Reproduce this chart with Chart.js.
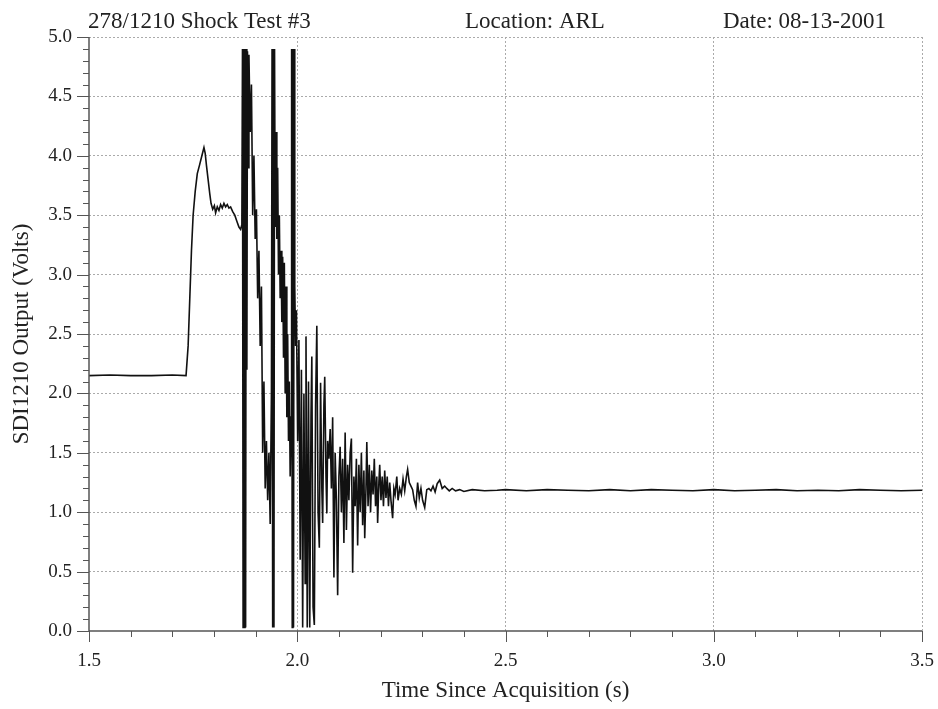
<!DOCTYPE html>
<html>
<head>
<meta charset="utf-8">
<title>278/1210 Shock Test #3</title>
<script src="https://cdn.jsdelivr.net/npm/chart.js@4.4.1/dist/chart.umd.min.js"></script>
<style>
  html, body { margin: 0; padding: 0; background: #fff; }
  canvas { display: block; }
</style>
</head>
<body>
<canvas id="shock-chart" width="938" height="709"></canvas>
<script>
// header line of the plot
const headerTitle = '278/1210 Shock Test #3';
const headerLocation = 'Location: ARL';
const headerDate = 'Date: 08-13-2001';

const xAxisTitle = 'Time Since Acquisition (s)';
const yAxisTitle = 'SDI1210 Output (Volts)';

// time of each sample (s)
const timeSec = [
  1.500, 1.550, 1.600, 1.650, 1.700, 1.733, 1.738, 1.742, 1.746, 1.750,
  1.755, 1.760, 1.766, 1.771, 1.776, 1.779, 1.782, 1.786, 1.790, 1.793,
  1.797, 1.801, 1.804, 1.808, 1.812, 1.816, 1.820, 1.824, 1.828, 1.832,
  1.836, 1.840, 1.845, 1.850, 1.855, 1.860, 1.864, 1.867, 1.8685, 1.870,
  1.8715, 1.873, 1.8745, 1.876, 1.8775, 1.879, 1.8805, 1.882, 1.884, 1.887,
  1.890, 1.893, 1.896, 1.899, 1.902, 1.905, 1.908, 1.911, 1.914, 1.917,
  1.920, 1.923, 1.926, 1.929, 1.932, 1.935, 1.938, 1.9395, 1.941, 1.9425,
  1.944, 1.9455, 1.947, 1.949, 1.951, 1.953, 1.955, 1.957, 1.959, 1.961,
  1.963, 1.965, 1.967, 1.969, 1.971, 1.973, 1.975, 1.977, 1.979, 1.981,
  1.983, 1.985, 1.9865, 1.988, 1.9895, 1.991, 1.9925, 1.994, 1.996, 1.998,
  2.001, 2.004, 2.007, 2.010, 2.013, 2.016, 2.019, 2.021, 2.024, 2.027,
  2.030, 2.033, 2.035, 2.038, 2.041, 2.044, 2.047, 2.050, 2.053, 2.056,
  2.059, 2.061, 2.064, 2.066, 2.069, 2.071, 2.073, 2.076, 2.079, 2.082,
  2.085, 2.088, 2.091, 2.094, 2.097, 2.100, 2.103, 2.106, 2.109, 2.112,
  2.115, 2.118, 2.121, 2.124, 2.127, 2.130, 2.133, 2.136, 2.139, 2.142,
  2.145, 2.148, 2.151, 2.154, 2.157, 2.160, 2.162, 2.165, 2.167, 2.170,
  2.173, 2.176, 2.179, 2.182, 2.185, 2.188, 2.191, 2.193, 2.196, 2.198,
  2.201, 2.204, 2.207, 2.210, 2.213, 2.216, 2.219, 2.222, 2.225, 2.229,
  2.232, 2.235, 2.239, 2.242, 2.246, 2.250, 2.254, 2.258, 2.262, 2.265,
  2.269, 2.273, 2.277, 2.281, 2.285, 2.289, 2.293, 2.297, 2.301, 2.306,
  2.311, 2.316, 2.321, 2.326, 2.331, 2.336, 2.342, 2.348, 2.354, 2.359,
  2.365, 2.372, 2.380, 2.390, 2.400, 2.420, 2.450, 2.480, 2.500, 2.550,
  2.600, 2.650, 2.700, 2.750, 2.800, 2.850, 2.900, 2.950, 3.000, 3.050,
  3.100, 3.150, 3.200, 3.250, 3.300, 3.350, 3.400, 3.450, 3.500
];

// SDI1210 output (V) at each of those times
const outputVolts = [
  2.15, 2.155, 2.15, 2.15, 2.155, 2.15, 2.4, 2.8, 3.2, 3.5,
  3.7, 3.85, 3.93, 4.0, 4.07, 4.02, 3.92, 3.8, 3.68, 3.6,
  3.55, 3.58, 3.52, 3.57, 3.54, 3.59, 3.56, 3.6, 3.57, 3.59,
  3.56, 3.57, 3.53, 3.5, 3.45, 3.4, 3.38, 3.42, 4.9, 0.03,
  4.9, 0.03, 4.9, 0.03, 4.9, 2.2, 4.88, 3.9, 4.85, 4.2,
  4.6, 3.5, 4.0, 3.3, 3.55, 2.8, 3.2, 2.4, 2.9, 1.5,
  2.1, 1.2, 1.6, 1.1, 1.5, 0.9, 2.0, 4.9, 0.03, 4.9,
  0.03, 4.9, 3.4, 4.2, 3.3, 3.9, 3.0, 3.5, 2.8, 3.2,
  2.6, 3.15, 2.3, 3.1, 2.0, 2.9, 1.8, 2.5, 1.6, 2.1,
  1.3, 1.8, 4.9, 0.03, 4.9, 0.03, 4.9, 2.9, 2.4, 2.7,
  1.6, 2.45, 0.6, 2.2, 0.03, 2.0, 0.4, 2.48, 0.03, 2.1,
  0.03, 1.8, 2.31, 0.2, 0.05, 1.9, 2.57, 1.0, 0.7, 2.09,
  1.2, 0.91, 1.9, 2.14, 1.3, 0.99, 1.6, 1.45, 1.7, 1.2,
  1.8, 0.45, 1.5, 1.1, 0.30, 1.3, 1.55, 1.0, 1.45, 0.74,
  1.67, 0.85, 1.4, 1.1, 1.5, 1.62, 0.49, 1.3, 1.05, 1.45,
  0.72, 1.4, 1.0, 1.5, 0.89, 1.35, 0.78, 1.2, 1.59, 1.05,
  1.4, 1.0, 1.35, 1.15, 1.45, 1.05, 1.3, 0.91, 1.25, 1.40,
  1.1, 1.3, 1.05, 1.35, 1.12, 1.3, 1.05, 1.25, 1.1, 0.95,
  1.2, 1.15, 1.30, 1.1, 1.2, 1.15, 1.28, 1.18, 1.30, 1.36,
  1.25, 1.22, 1.19, 1.1, 1.05, 1.25, 1.12, 1.2, 1.1, 1.04,
  1.19, 1.2, 1.18, 1.22, 1.17, 1.24, 1.27, 1.2, 1.22, 1.20,
  1.18, 1.2, 1.18, 1.19, 1.175, 1.19, 1.18, 1.185, 1.19, 1.18,
  1.19, 1.185, 1.18, 1.19, 1.18, 1.19, 1.185, 1.18, 1.19, 1.18,
  1.185, 1.19, 1.18, 1.185, 1.18, 1.19, 1.185, 1.18, 1.185
];

const xMin = 1.5, xMax = 3.5, xStep = 0.5;
const yMin = 0, yMax = 5, yStep = 0.5;

const FONT = "'Liberation Serif', 'Times New Roman', serif";
Chart.defaults.font.family = FONT;
Chart.defaults.color = '#222';

const points = timeSec.map((t, i) => ({ x: t, y: outputVolts[i] }));

const isMajor = (v, step) => Math.abs(v / step - Math.round(v / step)) < 1e-6;

// header texts across the top
const headerPlugin = {
  id: 'header',
  afterDraw(chart) {
    const ctx = chart.ctx;
    ctx.save();
    ctx.font = '23px ' + FONT;
    ctx.fillStyle = '#222';
    ctx.textBaseline = 'alphabetic';
    ctx.textAlign = 'left';
    ctx.fillText(headerTitle, 88, 28);
    ctx.fillText(headerLocation, 465, 28);
    ctx.fillText(headerDate, 723, 28);
    ctx.restore();
  }
};

// axis lines + major/minor tick marks (outside the plot)
const axisTicksPlugin = {
  id: 'axisTicks',
  afterDatasetsDraw(chart) {
    const { ctx, chartArea, scales: { x, y } } = chart;
    ctx.save();
    ctx.strokeStyle = '#555';
    ctx.lineWidth = 1.5;
    ctx.beginPath();
    ctx.moveTo(chartArea.left, chartArea.top);
    ctx.lineTo(chartArea.left, chartArea.bottom);
    ctx.lineTo(chartArea.right, chartArea.bottom);
    ctx.stroke();

    ctx.lineWidth = 1;
    ctx.beginPath();
    for (let i = 0; i <= 50; i++) {
      const v = i / 10;
      const py = Math.round(y.getPixelForValue(v)) + 0.5;
      const len = isMajor(v, yStep) ? 12 : 6;
      ctx.moveTo(chartArea.left - len, py);
      ctx.lineTo(chartArea.left, py);
    }
    for (let i = 15; i <= 35; i++) {
      const v = i / 10;
      const px = Math.round(x.getPixelForValue(v)) + 0.5;
      const len = isMajor(v, xStep) ? 11 : 6;
      ctx.moveTo(px, chartArea.bottom);
      ctx.lineTo(px, chartArea.bottom + len);
    }
    ctx.stroke();
    ctx.restore();
  }
};

new Chart(document.getElementById('shock-chart'), {
  type: 'line',
  data: {
    datasets: [{
      data: points,
      borderColor: '#111',
      borderWidth: 1.6,
      pointRadius: 0,
      tension: 0,
      fill: false
    }]
  },
  options: {
    responsive: false,
    animation: false,
    devicePixelRatio: 1,
    layout: { padding: { top: 37, right: 16, left: 0, bottom: 0 } },
    plugins: {
      legend: { display: false },
      tooltip: { enabled: false }
    },
    scales: {
      x: {
        type: 'linear',
        min: xMin,
        max: xMax,
        afterFit: s => { s.height = 78; s.paddingLeft = 0; s.paddingRight = 0; },
        ticks: {
          stepSize: xStep,
          padding: 19,
          font: { size: 19 },
          color: '#222',
          maxRotation: 0,
          callback: v => v.toFixed(1)
        },
        grid: {
          drawTicks: false,
          color: c => (c.tick && c.tick.value === xMin) ? 'rgba(0,0,0,0)' : '#aaa',
          lineWidth: 1
        },
        border: { display: false, dash: [2, 2] },
        title: {
          display: true,
          text: xAxisTitle,
          font: { size: 23 },
          color: '#222',
          padding: { top: 0, bottom: 4 }
        }
      },
      y: {
        min: yMin,
        max: yMax,
        afterFit: s => { s.width = 89; s.paddingTop = 0; s.paddingBottom = 0; },
        ticks: {
          stepSize: yStep,
          padding: 17,
          font: { size: 19 },
          color: '#222',
          callback: v => v.toFixed(1)
        },
        grid: {
          drawTicks: false,
          color: c => (c.tick && c.tick.value === yMin) ? 'rgba(0,0,0,0)' : '#aaa',
          lineWidth: 1
        },
        border: { display: false, dash: [2, 2] },
        title: {
          display: true,
          text: yAxisTitle,
          font: { size: 23 },
          color: '#222',
          padding: { top: 8, bottom: 0 }
        }
      }
    }
  },
  plugins: [headerPlugin, axisTicksPlugin]
});
</script>
</body>
</html>
